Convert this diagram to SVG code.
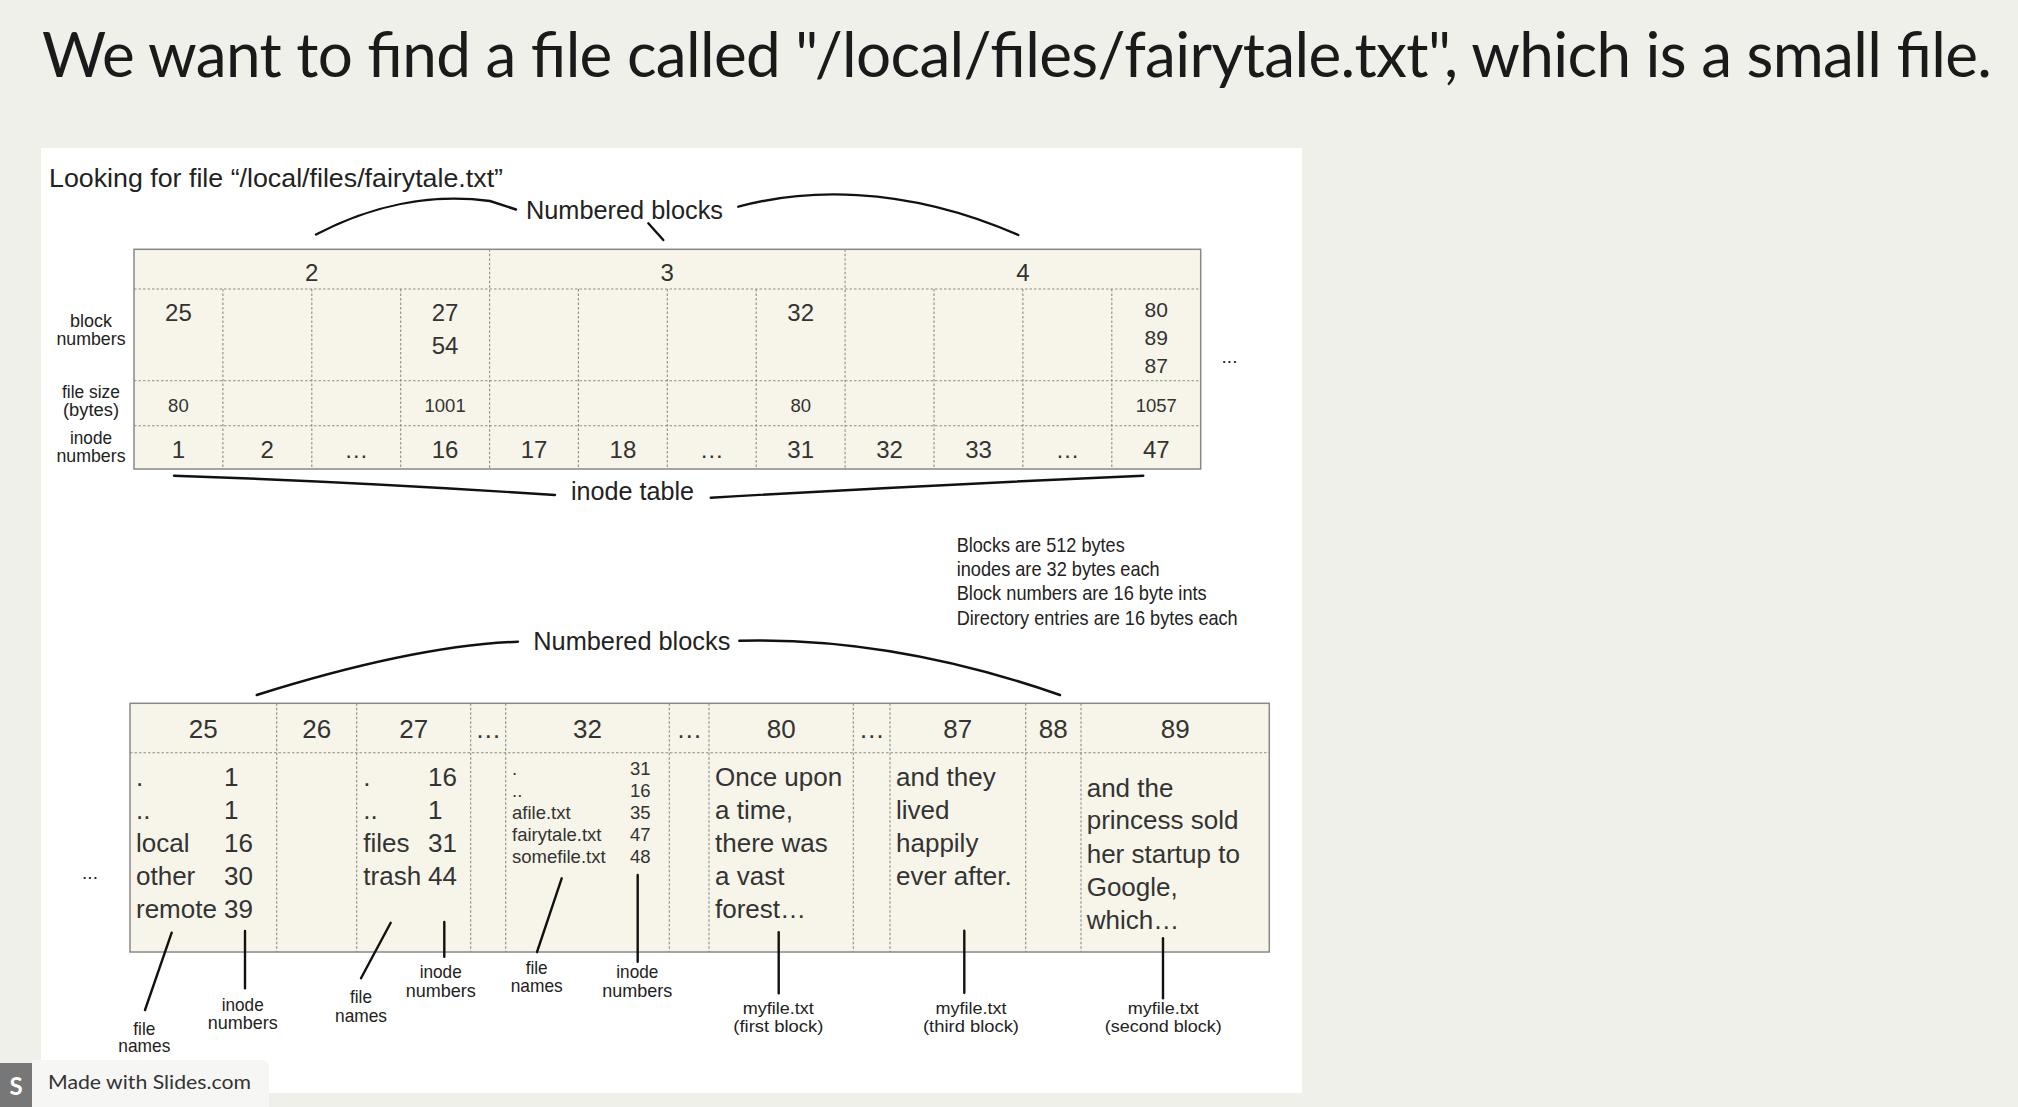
<svg xmlns="http://www.w3.org/2000/svg" width="2018" height="1107" viewBox="0 0 2018 1107">
<style>
.bg{fill:#f0f0eb}
.tbl{fill:#f7f5e9;stroke:#888;stroke-width:1.5}
.dot{stroke:#8a8a8a;stroke-width:1.1;stroke-dasharray:2.5 2;fill:none}
.ln{stroke:#111;stroke-width:2.4;fill:none;stroke-linecap:round}
.t{font-family:"Liberation Sans",Arial,sans-serif;fill:#333}
.lab{font-family:"Liberation Sans",Arial,sans-serif;fill:#222;font-size:19px}
.c{text-anchor:middle}
.d24{font-size:24px}
.d26{font-size:26px}
.d21{font-size:21px}
.d18{font-size:18.5px}
.sm{font-size:17px}
</style>
<rect class="bg" x="0" y="0" width="2018" height="1107"/>
<text x="42" y="77" font-family="Lato,'Liberation Sans',sans-serif" font-size="62" fill="#1a1a1a" textLength="1950" lengthAdjust="spacing">We want to find a file called "/local/files/fairytale.txt", which is a small file.</text>
<rect x="41" y="148" width="1261" height="945" fill="#ffffff"/>
<text class="lab" x="49" y="187" style="font-size:25px" textLength="454" lengthAdjust="spacingAndGlyphs">Looking for file “/local/files/fairytale.txt”</text>

<g id="inode-table">
<rect class="tbl" x="134" y="249.3" width="1066.7" height="219.7"/>
<path class="dot" d="M134,289H1200.7M134,380.7H1200.7M134,425.7H1200.7"/>
<path class="dot" d="M222.9,289V469M311.8,289V469M400.7,289V469M489.6,249.3V469M578.4,289V469M667.3,289V469M756.2,289V469M845.1,249.3V469M934,289V469M1022.9,289V469M1111.8,289V469"/>
<g class="t d24 c">
<text x="311.8" y="281">2</text><text x="667.3" y="281">3</text><text x="1023" y="281">4</text>
<text x="178.4" y="320.7">25</text>
<text x="445.1" y="320.7">27</text><text x="445.1" y="354">54</text>
<text x="800.7" y="320.7">32</text>
<text x="178.4" y="457.7">1</text><text x="267.3" y="457.7">2</text><text x="356.2" y="457.7">…</text>
<text x="445.1" y="457.7">16</text><text x="534" y="457.7">17</text><text x="622.9" y="457.7">18</text>
<text x="711.8" y="457.7">…</text><text x="800.7" y="457.7">31</text><text x="889.6" y="457.7">32</text>
<text x="978.5" y="457.7">33</text><text x="1067.4" y="457.7">…</text><text x="1156.3" y="457.7">47</text>
</g>
<g class="t d21 c">
<text x="1156.3" y="316.7">80</text><text x="1156.3" y="345">89</text><text x="1156.3" y="372.7">87</text>
</g>
<g class="t d18 c">
<text x="178.4" y="411.7">80</text><text x="445.1" y="411.7">1001</text><text x="800.7" y="411.7">80</text><text x="1156.3" y="411.7">1057</text>
</g>
</g>

<g id="inode-row-labels" class="lab c">
<text x="91" y="327.3" textLength="42" lengthAdjust="spacingAndGlyphs">block</text>
<text x="91" y="345" textLength="69" lengthAdjust="spacingAndGlyphs">numbers</text>
<text x="91" y="397.5" style="font-size:18px" textLength="58" lengthAdjust="spacingAndGlyphs">file size</text>
<text x="91" y="416" style="font-size:18px" textLength="56" lengthAdjust="spacingAndGlyphs">(bytes)</text>
<text x="91" y="444.3" textLength="42" lengthAdjust="spacingAndGlyphs">inode</text>
<text x="91" y="461.7" textLength="69" lengthAdjust="spacingAndGlyphs">numbers</text>
<text x="1229.5" y="363">...</text>
</g>

<g id="upper-numbered-blocks">
<text class="lab" x="526" y="219" style="font-size:26px" textLength="197" lengthAdjust="spacingAndGlyphs">Numbered blocks</text>
</g>
<g id="inode-table-label">
<text class="lab" x="571" y="500" style="font-size:25px" textLength="123" lengthAdjust="spacingAndGlyphs">inode table</text>
</g>

<g id="notes" class="lab" style="font-size:21px">
<text x="956.7" y="551.7" textLength="168" lengthAdjust="spacingAndGlyphs">Blocks are 512 bytes</text>
<text x="956.7" y="576" textLength="203" lengthAdjust="spacingAndGlyphs">inodes are 32 bytes each</text>
<text x="956.7" y="600" textLength="250" lengthAdjust="spacingAndGlyphs">Block numbers are 16 byte ints</text>
<text x="956.7" y="625" textLength="281" lengthAdjust="spacingAndGlyphs">Directory entries are 16 bytes each</text>
</g>

<g id="data-blocks">
<rect class="tbl" x="130" y="703.3" width="1139.3" height="248.7"/>
<path class="dot" d="M130,752.7H1269.3"/>
<path class="dot" d="M276.7,703.3V952M356.7,703.3V952M470.7,703.3V952M505.7,703.3V952M669.3,703.3V952M709,703.3V952M853.3,703.3V952M890,703.3V952M1025.7,703.3V952M1081,703.3V952"/>
<g class="t d26 c">
<text x="203.3" y="738.3">25</text><text x="316.7" y="738.3">26</text><text x="413.7" y="738.3">27</text>
<text x="488.2" y="738.3">…</text><text x="587.5" y="738.3">32</text><text x="689.2" y="738.3">…</text>
<text x="781.2" y="738.3">80</text><text x="871.7" y="738.3">…</text><text x="957.8" y="738.3">87</text>
<text x="1053.3" y="738.3">88</text><text x="1175.2" y="738.3">89</text>
</g>
<g class="t d26">
<text x="136" y="785.7">.</text><text x="224" y="785.7">1</text>
<text x="136" y="819">..</text><text x="224" y="819">1</text>
<text x="136" y="851.7">local</text><text x="224" y="851.7">16</text>
<text x="136" y="885">other</text><text x="224" y="885">30</text>
<text x="136" y="917.7">remote</text><text x="224" y="917.7">39</text>
<text x="363.3" y="785.7">.</text><text x="428" y="785.7">16</text>
<text x="363.3" y="819">..</text><text x="428" y="819">1</text>
<text x="363.3" y="851.7">files</text><text x="428" y="851.7">31</text>
<text x="363.3" y="885">trash</text><text x="428" y="885">44</text>
<text x="715" y="785.7">Once upon</text><text x="715" y="819">a time,</text><text x="715" y="851.7">there was</text><text x="715" y="885">a vast</text><text x="715" y="917.7">forest…</text>
<text x="896" y="785.7">and they</text><text x="896" y="819">lived</text><text x="896" y="851.7">happily</text><text x="896" y="885">ever after.</text>
<text x="1086.7" y="796.7">and the</text><text x="1086.7" y="829.3">princess sold</text><text x="1086.7" y="862.7">her startup to</text><text x="1086.7" y="896">Google,</text><text x="1086.7" y="929.3">which…</text>
</g>
<g class="t d18">
<text x="512" y="775">.</text><text x="630" y="775">31</text>
<text x="512" y="797">..</text><text x="630" y="797">16</text>
<text x="512" y="819.3">afile.txt</text><text x="630" y="819.3">35</text>
<text x="512" y="841.3">fairytale.txt</text><text x="630" y="841.3">47</text>
<text x="512" y="863.3">somefile.txt</text><text x="630" y="863.3">48</text>
</g>
<text class="lab c" x="90" y="879">...</text>
</g>

<g id="lower-numbered-blocks">
<text class="lab" x="533.3" y="650" style="font-size:26px" textLength="197" lengthAdjust="spacingAndGlyphs">Numbered blocks</text>
</g>

<g id="lower-labels" class="lab c">
<text x="144.3" y="1035" textLength="22" lengthAdjust="spacingAndGlyphs">file</text>
<text x="144.3" y="1052.3" textLength="52" lengthAdjust="spacingAndGlyphs">names</text>
<text x="242.7" y="1010.7" textLength="42" lengthAdjust="spacingAndGlyphs">inode</text>
<text x="242.7" y="1029.3" textLength="70" lengthAdjust="spacingAndGlyphs">numbers</text>
<text x="361" y="1003.3" textLength="22" lengthAdjust="spacingAndGlyphs">file</text>
<text x="361" y="1021.7" textLength="52" lengthAdjust="spacingAndGlyphs">names</text>
<text x="440.7" y="978.3" textLength="42" lengthAdjust="spacingAndGlyphs">inode</text>
<text x="440.7" y="996.7" textLength="70" lengthAdjust="spacingAndGlyphs">numbers</text>
<text x="536.7" y="974.3" textLength="22" lengthAdjust="spacingAndGlyphs">file</text>
<text x="536.7" y="991.7" textLength="52" lengthAdjust="spacingAndGlyphs">names</text>
<text x="637.3" y="978.3" textLength="42" lengthAdjust="spacingAndGlyphs">inode</text>
<text x="637.3" y="996.7" textLength="70" lengthAdjust="spacingAndGlyphs">numbers</text>
<text class="sm" x="778.3" y="1014" textLength="71" lengthAdjust="spacingAndGlyphs">myfile.txt</text>
<text class="sm" x="778.3" y="1032" textLength="90" lengthAdjust="spacingAndGlyphs">(first block)</text>
<text class="sm" x="971" y="1014" textLength="71" lengthAdjust="spacingAndGlyphs">myfile.txt</text>
<text class="sm" x="971" y="1032" textLength="96" lengthAdjust="spacingAndGlyphs">(third block)</text>
<text class="sm" x="1163.3" y="1014" textLength="71" lengthAdjust="spacingAndGlyphs">myfile.txt</text>
<text class="sm" x="1163.3" y="1032" textLength="117" lengthAdjust="spacingAndGlyphs">(second block)</text>
</g>

<g id="connectors" class="ln">
<path d="M316,234.5 C370,206 430,193 490,201 L516,209.5"/>
<path d="M648.3,223.3 L663.3,240"/>
<path d="M738.3,206.7 C800,190 900,183 1018.3,235"/>
<path d="M174,475.7 Q360,482 555,495"/>
<path d="M710.7,497.7 Q930,485 1143.3,475.7"/>
<path d="M256.7,695 C330,672 430,645 518,641.7"/>
<path d="M739.3,640.7 C850,638 960,660 1060,695"/>
<path d="M171.7,932.7 L145,1010"/>
<path d="M245,931 V988.3"/>
<path d="M390.7,922.7 L361,978.3"/>
<path d="M444.3,922 V956.7"/>
<path d="M561.7,878.3 L537,952"/>
<path d="M637.7,875 V961.7"/>
<path d="M778.7,932.3 V993.3"/>
<path d="M964.3,930.7 V992.7"/>
<path d="M1163,938.3 V998.3"/>
</g>

<g id="footer">
<path d="M32,1060 H261 Q269,1060 269,1068 V1107 H32 Z" fill="#f6f6f4"/>
<rect x="0" y="1063" width="32" height="44" fill="#777"/>
<text x="16" y="1095" text-anchor="middle" font-family="Lato,'Liberation Sans',sans-serif" font-size="24" font-weight="bold" fill="#fff">S</text>
<text x="48" y="1089" font-family="Lato,'Liberation Sans',sans-serif" font-size="20" fill="#333" textLength="203" lengthAdjust="spacingAndGlyphs">Made with Slides.com</text>
</g>
</svg>
